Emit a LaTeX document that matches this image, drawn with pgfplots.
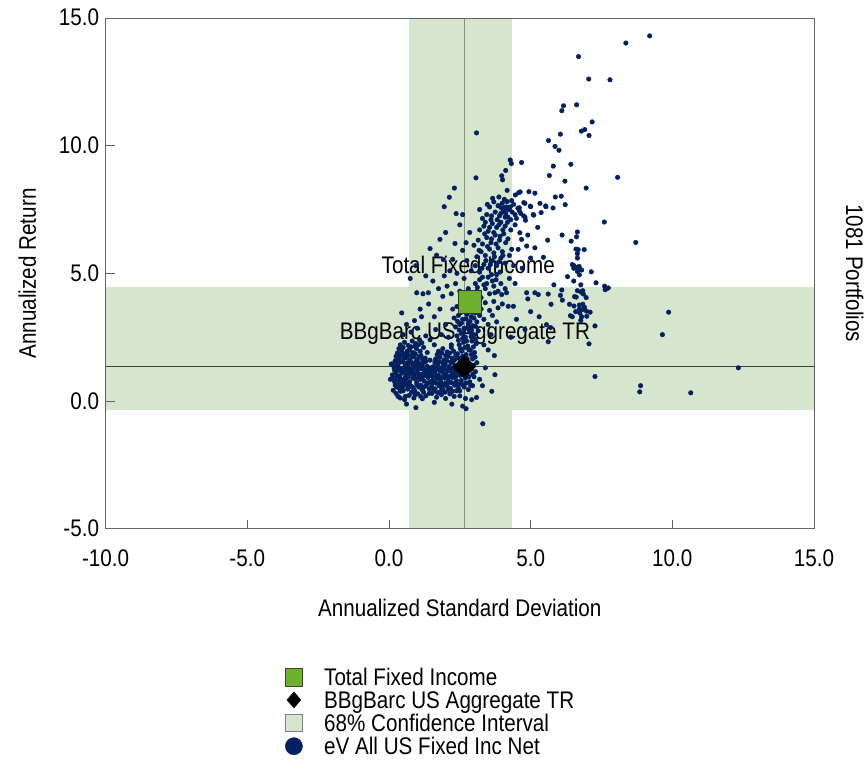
\documentclass[border=0pt]{standalone}
\usepackage{fontspec}
\setmainfont{Liberation Sans}[FakeStretch=0.86]
\usepackage{pgfplots}
\pgfplotsset{compat=1.18}
\definecolor{navy}{RGB}{0,32,96}
\definecolor{band}{RGB}{213,229,206}
\definecolor{tfi}{RGB}{108,176,44}
\definecolor{axgray}{RGB}{100,100,100}

\pgfplotstableread{
x y
9.20 14.30
8.36 14.02
6.69 13.49
7.05 12.61
7.80 12.58
6.16 11.56
6.10 11.37
6.62 11.60
7.17 10.93
6.05 10.45
6.79 10.57
6.91 10.63
7.06 10.40
5.63 10.20
5.86 9.97
6.00 9.82
4.28 9.44
4.32 9.30
4.68 9.34
5.80 9.20
6.42 9.27
5.66 8.83
6.21 8.61
8.07 8.76
6.96 8.34
4.12 9.03
3.98 8.82
4.01 8.66
4.17 8.25
4.94 8.20
5.15 8.14
4.46 8.07
4.58 8.16
4.63 8.19
5.87 7.99
6.08 8.02
5.33 7.74
5.54 7.61
4.80 7.74
4.99 7.63
5.79 7.56
6.22 7.69
5.37 7.38
5.11 7.28
4.07 7.90
4.17 7.81
4.33 7.85
3.66 7.94
3.88 7.99
3.88 7.64
3.47 7.70
4.06 7.57
4.21 7.51
4.60 7.57
4.82 7.08
3.09 10.50
3.07 8.74
2.31 8.34
2.13 7.98
1.95 7.61
2.37 7.34
7.60 7.01
8.71 6.21
6.11 6.50
6.43 6.26
6.65 6.62
6.62 6.43
6.60 5.95
6.68 5.93
6.89 5.93
6.65 5.77
6.65 5.60
5.45 5.63
6.47 5.34
6.53 5.30
6.59 5.23
6.71 5.27
6.74 5.16
6.65 5.07
6.80 5.13
6.72 4.94
6.52 5.20
7.14 5.06
6.30 4.87
6.52 4.70
7.31 4.63
5.82 4.55
6.77 4.55
6.65 4.32
6.77 4.27
6.84 4.32
6.86 4.19
6.96 4.05
7.61 4.50
7.68 4.40
7.74 4.43
7.63 4.36
6.10 4.35
5.62 4.19
6.05 4.14
6.12 3.95
6.55 4.09
6.61 4.07
5.72 3.79
6.37 3.79
6.53 3.72
6.72 3.76
6.84 3.79
6.90 3.67
6.72 3.60
6.84 3.59
6.97 3.52
7.10 3.48
6.59 3.50
6.74 3.44
6.80 3.30
6.40 3.34
6.47 3.30
6.77 3.16
6.98 3.32
9.87 3.48
7.27 2.94
9.65 2.60
5.70 2.88
5.62 2.32
7.06 2.24
12.33 1.30
7.27 0.96
8.88 0.60
8.85 0.36
10.65 0.32
5.15 6.00
4.86 6.07
4.56 5.94
4.33 5.94
5.15 4.24
4.86 4.24
4.62 6.59
4.68 6.33
5.27 4.17
5.56 2.99
4.39 3.71
4.21 3.71
3.98 4.17
3.74 4.24
4.15 4.24
4.50 3.20
4.80 2.80
5.00 3.50
4.30 2.50
4.90 4.00
5.30 3.30
4.45 4.60
4.70 5.20
5.00 5.60
4.90 6.50
5.25 6.80
5.60 6.30
4.40 5.30
5.09 7.30
5.00 7.61
4.76 7.77
5.53 7.64
3.95 7.35
4.10 7.20
4.25 7.50
4.45 7.30
4.60 7.45
4.75 7.25
4.30 7.10
0.32 0.18
0.55 0.05
0.71 0.22
0.88 0.12
1.02 0.28
1.18 0.09
0.95 -0.26
0.62 -0.12
1.30 0.20
0.15 0.42
0.28 0.55
0.41 0.38
0.52 0.61
0.66 0.47
0.79 0.58
0.91 0.40
1.05 0.55
1.17 0.44
1.31 0.60
1.42 0.48
0.20 0.75
0.34 0.82
0.47 0.70
0.60 0.88
0.73 0.76
0.85 0.90
0.98 0.72
1.10 0.85
1.24 0.78
1.38 0.92
0.12 1.02
0.25 1.10
0.38 0.98
0.50 1.15
0.63 1.04
0.76 1.18
0.89 1.01
1.01 1.12
1.14 1.05
1.27 1.20
1.40 1.08
0.18 1.30
0.31 1.38
0.44 1.26
0.57 1.42
0.70 1.30
0.83 1.45
0.96 1.33
1.08 1.40
1.21 1.50
1.35 1.36
0.22 1.58
0.36 1.66
0.49 1.55
0.62 1.70
0.75 1.60
0.88 1.73
1.00 1.62
1.13 1.78
1.28 1.68
0.30 1.88
0.45 1.95
0.58 1.85
0.71 2.00
0.84 1.90
0.97 2.05
1.10 1.95
1.22 2.10
0.40 2.20
0.55 2.30
0.68 2.18
0.82 2.35
0.95 2.25
1.08 2.40
0.50 2.60
0.78 2.70
1.00 2.85
0.62 3.00
0.90 3.15
1.15 3.30
0.45 3.45
1.30 2.55
0.35 0.65
0.58 0.95
0.82 1.25
1.05 0.95
0.40 1.20
0.70 0.55
0.95 1.55
0.27 0.90
1.20 1.25
0.52 1.80
0.80 0.35
0.65 1.50
0.05 0.85
0.08 1.45
1.48 1.30
1.45 0.75
0.22 0.62
0.36 0.50
0.47 0.52
0.60 0.66
0.73 0.62
0.86 0.52
0.99 0.64
1.12 0.62
1.24 0.55
1.36 0.70
0.16 0.88
0.30 0.96
0.43 0.86
0.56 0.80
0.69 0.95
0.80 1.08
0.93 0.86
1.06 1.04
1.19 0.94
1.32 1.00
0.20 1.20
0.33 1.24
0.46 1.10
0.60 1.22
0.72 1.15
0.86 1.12
0.99 1.24
1.12 1.28
1.25 1.08
1.38 1.22
0.13 1.45
0.27 1.48
0.40 1.52
0.53 1.30
0.66 1.38
0.78 1.50
0.91 1.45
1.04 1.50
1.17 1.38
1.30 1.55
0.25 1.75
0.40 1.78
0.54 1.68
0.68 1.82
0.80 1.74
0.93 1.85
1.06 1.74
1.19 1.62
0.35 2.05
0.50 2.10
0.64 1.95
0.78 2.12
0.91 2.15
1.04 2.20
1.16 2.28
0.40 0.12
0.25 0.30
0.58 0.18
0.92 0.24
1.12 0.18
0.50 0.40
1.22 0.35
1.52 0.30
1.68 0.15
1.85 0.25
2.00 0.10
2.15 0.28
2.30 0.18
1.60 -0.05
2.22 -0.12
1.50 0.55
1.63 0.48
1.77 0.60
1.90 0.45
2.04 0.58
2.17 0.50
2.32 0.62
2.45 0.50
1.55 0.80
1.70 0.88
1.83 0.76
1.96 0.90
2.10 0.78
2.24 0.92
2.38 0.80
1.48 1.05
1.62 1.12
1.75 1.00
1.88 1.15
2.02 1.05
2.16 1.18
2.30 1.06
2.44 1.14
1.57 1.35
1.72 1.42
1.85 1.30
1.98 1.45
2.12 1.35
2.26 1.48
2.40 1.38
1.65 1.65
1.80 1.72
1.94 1.60
2.08 1.75
2.22 1.68
2.36 1.80
1.75 1.95
1.90 2.05
2.05 1.92
2.20 2.10
1.45 1.60
1.42 0.30
1.60 2.20
1.35 1.90
1.80 0.35
2.00 0.70
1.92 1.25
2.15 0.95
1.70 1.25
2.30 1.30
1.58 0.40
1.72 0.32
1.86 0.50
1.98 0.35
2.10 0.45
2.24 0.38
2.38 0.40
1.52 0.68
1.66 0.70
1.80 0.68
1.92 0.62
2.06 0.66
2.20 0.72
2.34 0.70
2.46 0.65
1.54 0.95
1.68 0.98
1.82 0.92
1.94 1.02
2.08 0.92
2.22 1.02
2.36 0.96
1.52 1.22
1.66 1.26
1.80 1.18
1.95 1.32
2.06 1.20
2.20 1.25
2.34 1.18
2.46 1.28
1.62 1.52
1.77 1.55
1.90 1.48
2.04 1.58
2.18 1.52
2.32 1.62
1.70 1.82
1.86 1.88
2.00 1.78
2.14 1.88
2.28 1.95
2.50 0.40
2.65 0.55
2.80 0.45
2.95 0.60
2.55 0.80
2.70 0.90
2.85 0.75
3.00 0.95
2.45 1.10
2.60 1.20
2.75 1.05
2.90 1.25
3.05 1.15
2.50 1.50
2.65 1.60
2.80 1.45
2.95 1.65
3.10 1.50
2.42 1.85
2.57 1.95
2.72 1.82
2.87 2.00
3.02 1.90
2.48 2.20
2.63 2.30
2.78 2.15
2.93 2.35
3.08 2.25
2.40 2.55
2.55 2.65
2.70 2.50
2.85 2.70
3.00 2.60
3.15 2.75
2.35 2.90
2.50 3.00
2.65 2.85
2.80 3.05
2.95 2.95
3.10 3.10
2.30 3.25
2.45 3.35
2.60 3.20
2.75 3.40
2.90 3.30
3.05 3.45
3.20 3.35
2.25 3.60
2.40 3.70
2.55 3.55
2.70 3.75
2.85 3.65
3.00 3.80
3.15 3.70
2.20 2.20
2.28 1.60
2.35 1.20
2.58 0.65
2.72 0.70
2.88 0.62
2.52 1.00
2.66 1.02
2.82 0.95
2.96 1.05
2.55 1.35
2.70 1.35
2.84 1.30
2.98 1.40
2.46 1.68
2.60 1.75
2.76 1.66
2.90 1.82
3.04 1.72
2.52 2.05
2.68 2.10
2.82 2.00
2.98 2.12
2.45 2.38
2.60 2.45
2.74 2.35
2.90 2.52
3.05 2.42
2.48 2.78
2.62 2.68
2.78 2.85
2.92 2.78
3.06 2.92
2.42 3.12
2.56 3.05
2.72 3.22
2.86 3.12
3.00 3.25
2.52 3.45
2.66 3.52
2.80 3.55
2.95 3.48
3.10 3.55
2.50 0.20
2.70 0.10
2.60 -0.20
2.72 -0.30
3.31 -0.89
2.92 0.05
3.09 0.14
3.63 0.38
3.74 1.03
3.72 1.78
3.30 0.60
3.40 1.30
3.50 2.00
3.20 0.85
3.35 2.20
3.60 2.60
2.95 4.10
3.10 4.30
3.25 4.05
3.40 4.40
3.55 4.20
3.70 4.50
3.85 4.30
3.05 4.60
3.20 4.75
3.35 4.55
3.50 4.85
3.65 4.70
3.80 4.95
3.95 4.60
2.80 4.40
2.65 4.80
4.10 4.40
4.25 4.80
2.90 5.10
3.05 5.30
3.20 5.05
3.35 5.35
3.50 5.20
3.65 5.50
3.80 5.30
3.95 5.60
4.10 5.40
3.10 5.65
3.25 5.85
3.40 5.70
3.55 5.95
3.70 5.80
3.85 6.00
4.00 5.85
2.75 5.50
4.25 5.70
2.60 5.90
3.00 6.10
3.15 6.30
3.30 6.15
3.45 6.40
3.60 6.20
3.75 6.50
3.90 6.30
4.05 6.55
4.20 6.35
3.20 6.70
3.35 6.85
3.50 6.65
3.65 6.95
3.80 6.80
3.95 7.00
4.10 6.85
4.30 6.70
2.85 6.60
4.45 6.90
3.30 7.15
3.45 7.30
3.60 7.10
3.75 7.40
3.90 7.25
4.05 7.45
4.20 7.20
4.35 7.40
4.50 7.15
4.65 7.35
4.80 7.20
3.55 7.60
3.70 7.80
3.85 7.65
4.00 7.75
4.15 7.60
4.40 7.70
4.55 7.55
3.20 7.50
3.28 5.20
3.42 5.50
3.58 5.35
3.72 5.65
3.88 5.45
4.02 5.70
3.18 5.90
3.48 6.05
3.62 6.35
3.78 6.15
3.92 6.45
4.12 6.20
3.38 6.55
3.55 6.80
3.70 6.60
3.88 6.90
4.02 6.70
4.18 7.00
3.40 7.00
3.62 7.25
3.82 7.10
3.98 7.55
4.12 7.35
4.28 7.60
3.12 4.45
3.30 4.85
3.45 4.60
3.62 4.95
3.78 4.75
3.92 5.05
3.25 3.60
3.40 3.85
3.55 3.55
3.70 3.90
3.85 3.65
3.35 3.20
3.50 3.00
3.65 3.35
4.00 3.80
3.80 3.10
1.75 4.40
1.90 4.10
2.05 4.50
2.20 4.20
2.35 4.60
2.50 4.30
1.95 4.90
2.15 5.10
2.40 5.00
1.55 4.70
2.25 5.55
1.68 5.71
1.92 5.54
1.45 5.97
1.80 6.33
2.33 6.17
2.72 6.20
2.00 6.60
2.50 6.90
2.60 7.30
1.20 4.20
1.40 3.80
1.10 3.60
1.60 3.30
1.80 3.60
2.00 3.00
1.85 2.60
1.65 2.80
1.45 2.40
2.10 2.50
1.30 4.90
0.75 4.80
0.95 5.30
0.98 4.24
1.39 4.24
}\scatterdata

\begin{document}
\fontsize{24bp}{28bp}\selectfont
\begin{tikzpicture}[font=\fontsize{24bp}{28bp}\selectfont]
\useasboundingbox (-105.6bp,-237.3bp) rectangle (759.4bp,528.7bp);
\begin{axis}[
  at={(0,0)}, anchor=south west,
  scale only axis, width=708.4bp, height=510.7bp,
  xmin=-10, xmax=15, ymin=-5, ymax=15,
  xtick={-10,-5,0,5,10,15}, ytick={-5,0,5,10,15},
  xtick pos=bottom, ytick pos=left, tick align=inside,
  major tick length=9bp,
  axis line style={axgray, line width=0.9bp},
  every tick/.style={axgray, line width=0.9bp},
  axis on top, clip=false,
  ticklabel style={font=\fontsize{24bp}{28bp}\selectfont},
  /pgf/number format/fixed,
  /pgf/number format/fixed zerofill,
  /pgf/number format/precision=1,
  /pgf/number format/assume math mode=true,
  xticklabel style={anchor=base, yshift=-38bp},
  yticklabel style={anchor=base east, inner sep=0pt, xshift=-6.4bp, yshift=-8bp},
  xlabel={Annualized Standard Deviation},
  ylabel={Annualized Return},
  every axis x label/.style={at={(axis description cs:0.5,-0.172)}, anchor=base},
  every axis y label/.style={at={(axis description cs:-0.0983,0.5)}, anchor=base, rotate=90},
  legend cell align=left,
  legend style={at={(axis description cs:0.2532,-0.2734)}, anchor=north west,
    draw=none, fill=none, inner sep=0pt, outer sep=0pt, row sep=0.7bp,
    font=\fontsize{24bp}{28bp}\selectfont,
    nodes={inner sep=0pt, text height=17bp, text depth=5bp},
    /tikz/every odd column/.append style={column sep=21.3bp}},
]
% 68% confidence bands
\addplot[draw=none, fill=band, forget plot] coordinates {(0.70,-5) (4.35,-5) (4.35,15) (0.70,15)};
\addplot[draw=none, fill=band, forget plot] coordinates {(-10,-0.37) (15,-0.37) (15,4.45) (-10,4.45)};
% benchmark cross lines
\addplot[color=black!45, line width=1.2bp, forget plot] coordinates {(2.66,-5) (2.66,15)};
\addplot[color=black!75, line width=1bp, forget plot] coordinates {(-10,1.34) (15,1.34)};
% universe
\addplot[only marks, mark=*, mark size=2.3bp, color=navy, forget plot] table[x=x,y=y] {\scatterdata};
% benchmark and portfolio
\addplot[only marks, mark=square*, mark size=8bp, mark options={rotate=45, fill=black, draw=black}, forget plot] coordinates {(2.66,1.34)};
\addplot[only marks, mark=square*, mark size=11.5bp, mark options={fill=tfi, draw=black!80, line width=0.7bp}, forget plot] coordinates {(2.85,3.89)};

\node[anchor=base] at (axis cs:2.80,5.0) {Total Fixed Income};
\node[anchor=base] at (axis cs:2.68,2.41) {BBgBarc US Aggregate TR};
\node[rotate=-90, anchor=base] at (axis description cs:1.0452,0.5) {1081 Portfolios};

\addlegendimage{legend image code/.code={\path[draw=none,fill=none] (0bp,-11bp) rectangle (17.3bp,11bp); \draw[fill=tfi, draw=black!75, line width=0.6bp] (0bp,-6bp) rectangle (17.3bp,11.2bp);}}
\addlegendentry{Total Fixed Income}
\addlegendimage{legend image code/.code={\path[draw=none,fill=none] (0bp,-11bp) rectangle (17.3bp,11bp); \fill[black] (8.65bp,-5.4bp) -- (15.65bp,2.6bp) -- (8.65bp,10.6bp) -- (1.65bp,2.6bp) -- cycle;}}
\addlegendentry{BBgBarc US Aggregate TR}
\addlegendimage{legend image code/.code={\path[draw=none,fill=none] (0bp,-11bp) rectangle (17.3bp,11bp); \draw[fill=band, draw=gray, line width=0.6bp] (0bp,-6bp) rectangle (17.3bp,11.2bp);}}
\addlegendentry{68\% Confidence Interval}
\addlegendimage{legend image code/.code={\path[draw=none,fill=none] (0bp,-11bp) rectangle (17.3bp,11bp); \fill[navy] (8.65bp,2.6bp) circle (8.6bp);}}
\addlegendentry{eV All US Fixed Inc Net}
\end{axis}
\end{tikzpicture}
\end{document}
